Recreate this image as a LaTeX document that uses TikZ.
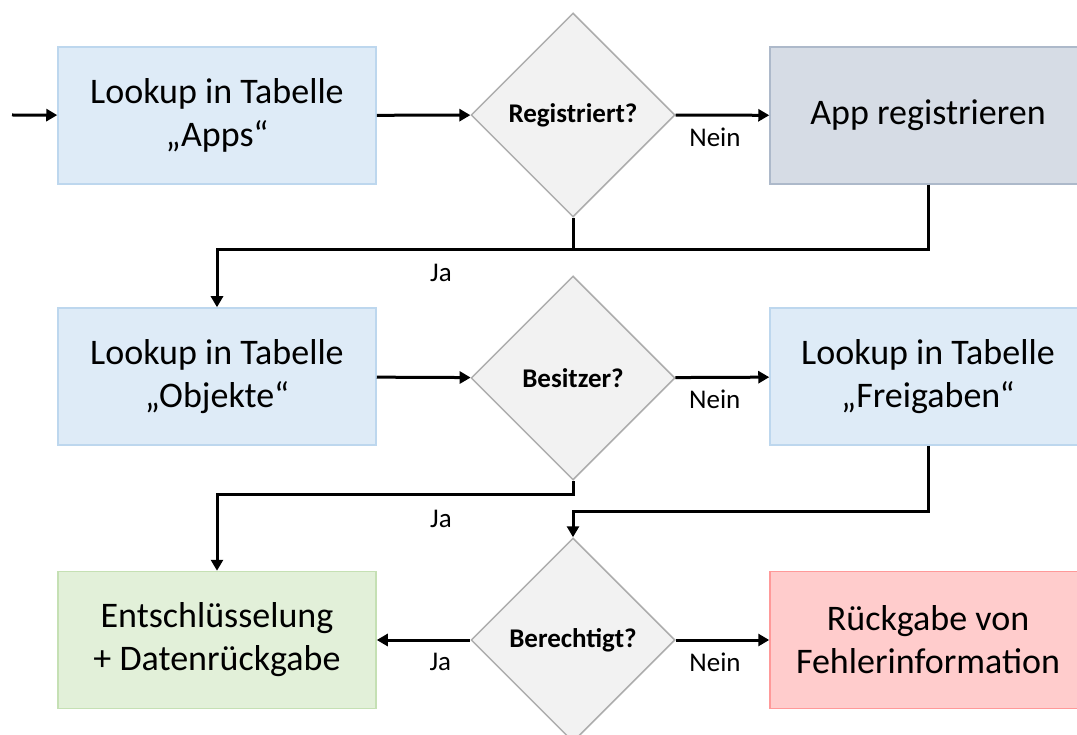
\documentclass[tikz,border=0pt]{standalone}
\usepackage{fontspec}
\setmainfont{Carlito}
\usetikzlibrary{shapes.geometric,arrows.meta}
\definecolor{lookfill}{HTML}{DEEBF7}
\definecolor{lookline}{HTML}{BDD7EE}
\definecolor{appfill}{HTML}{D6DCE5}
\definecolor{appline}{HTML}{ADB9CA}
\definecolor{okfill}{HTML}{E2F0D9}
\definecolor{okline}{HTML}{C5E0B4}
\definecolor{errfill}{HTML}{FFCCCC}
\definecolor{errline}{HTML}{FF9999}
\definecolor{askfill}{HTML}{F2F2F2}
\definecolor{askline}{HTML}{ADADAD}
\tikzset{
  box/.style={rectangle, draw=lookline, fill=lookfill, line width=1.5pt,
    minimum width=318pt, minimum height=137pt, align=center,
    font=\fontsize{36}{43}\selectfont},
  ask/.style={diamond, draw=askline, fill=askfill, line width=1.5pt,
    minimum size=204pt, inner sep=0pt, font=\fontsize{27}{30}\selectfont\bfseries},
  arr/.style={line width=3pt, -{Triangle[length=11pt,width=12pt]}},
  line/.style={line width=3pt},
  lbl/.style={font=\fontsize{27}{30}\selectfont}
}
\begin{document}
\begin{tikzpicture}[x=1pt,y=-1pt]
\useasboundingbox (0,0) rectangle (1077,735);
% first row
\node[box] (b1) at (217,115.5) {Lookup in Tabelle\\„Apps“};
\node[ask] (d1) at (573,115) {Registriert?};
\node[box, draw=appline, fill=appfill, minimum width=316pt] (app) at (928,115.5) {App registrieren};
% second row
\node[box] (b2) at (217,376.5) {Lookup in Tabelle\\„Objekte“};
\node[ask] (d2) at (573,378) {Besitzer?};
\node[box, minimum width=316pt] (frei) at (928,376.5) {Lookup in Tabelle\\„Freigaben“};
% third row
\node[box, draw=okline, fill=okfill] (ok) at (217,640) {Entschlüsselung\\+ Datenrückgabe};
\node[ask] (d3) at (573,640) {Berechtigt?};
\node[box, draw=errline, fill=errfill, minimum width=316pt] (err) at (928,640) {Rückgabe von\\Fehlerinformation};
% junctions
\coordinate (start) at (12,115);
\coordinate (j1) at (573,250);
\coordinate (j2) at (573,494);
\coordinate (j3) at (573,511);
% connectors
\draw[arr] (start) -- (b1);
\draw[arr] (b1) -- (d1);
\draw[arr] (d1) -- (app) node[lbl, pos=0.42, below=8pt] {Nein};
\draw[line] (d1.south) -- (j1);
\draw[arr] (app.south) |- (j1) -| (b2.north);
\node[lbl] (ja1) at (441,273) {Ja};
\draw[arr] (b2) -- (d2);
\draw[arr] (d2) -- (frei) node[lbl, pos=0.42, below=8pt] {Nein};
\draw[arr] (d2.south) -- (j2) -| (ok.north);
\node[lbl] (ja2) at (441,519) {Ja};
\draw[arr] (frei.south) |- (j3) -- (d3.north);
\draw[arr] (d3) -- (ok) node[lbl, pos=0.32, below=8pt] {Ja};
\draw[arr] (d3) -- (err) node[lbl, pos=0.42, below=8pt] {Nein};
\end{tikzpicture}
\end{document}
